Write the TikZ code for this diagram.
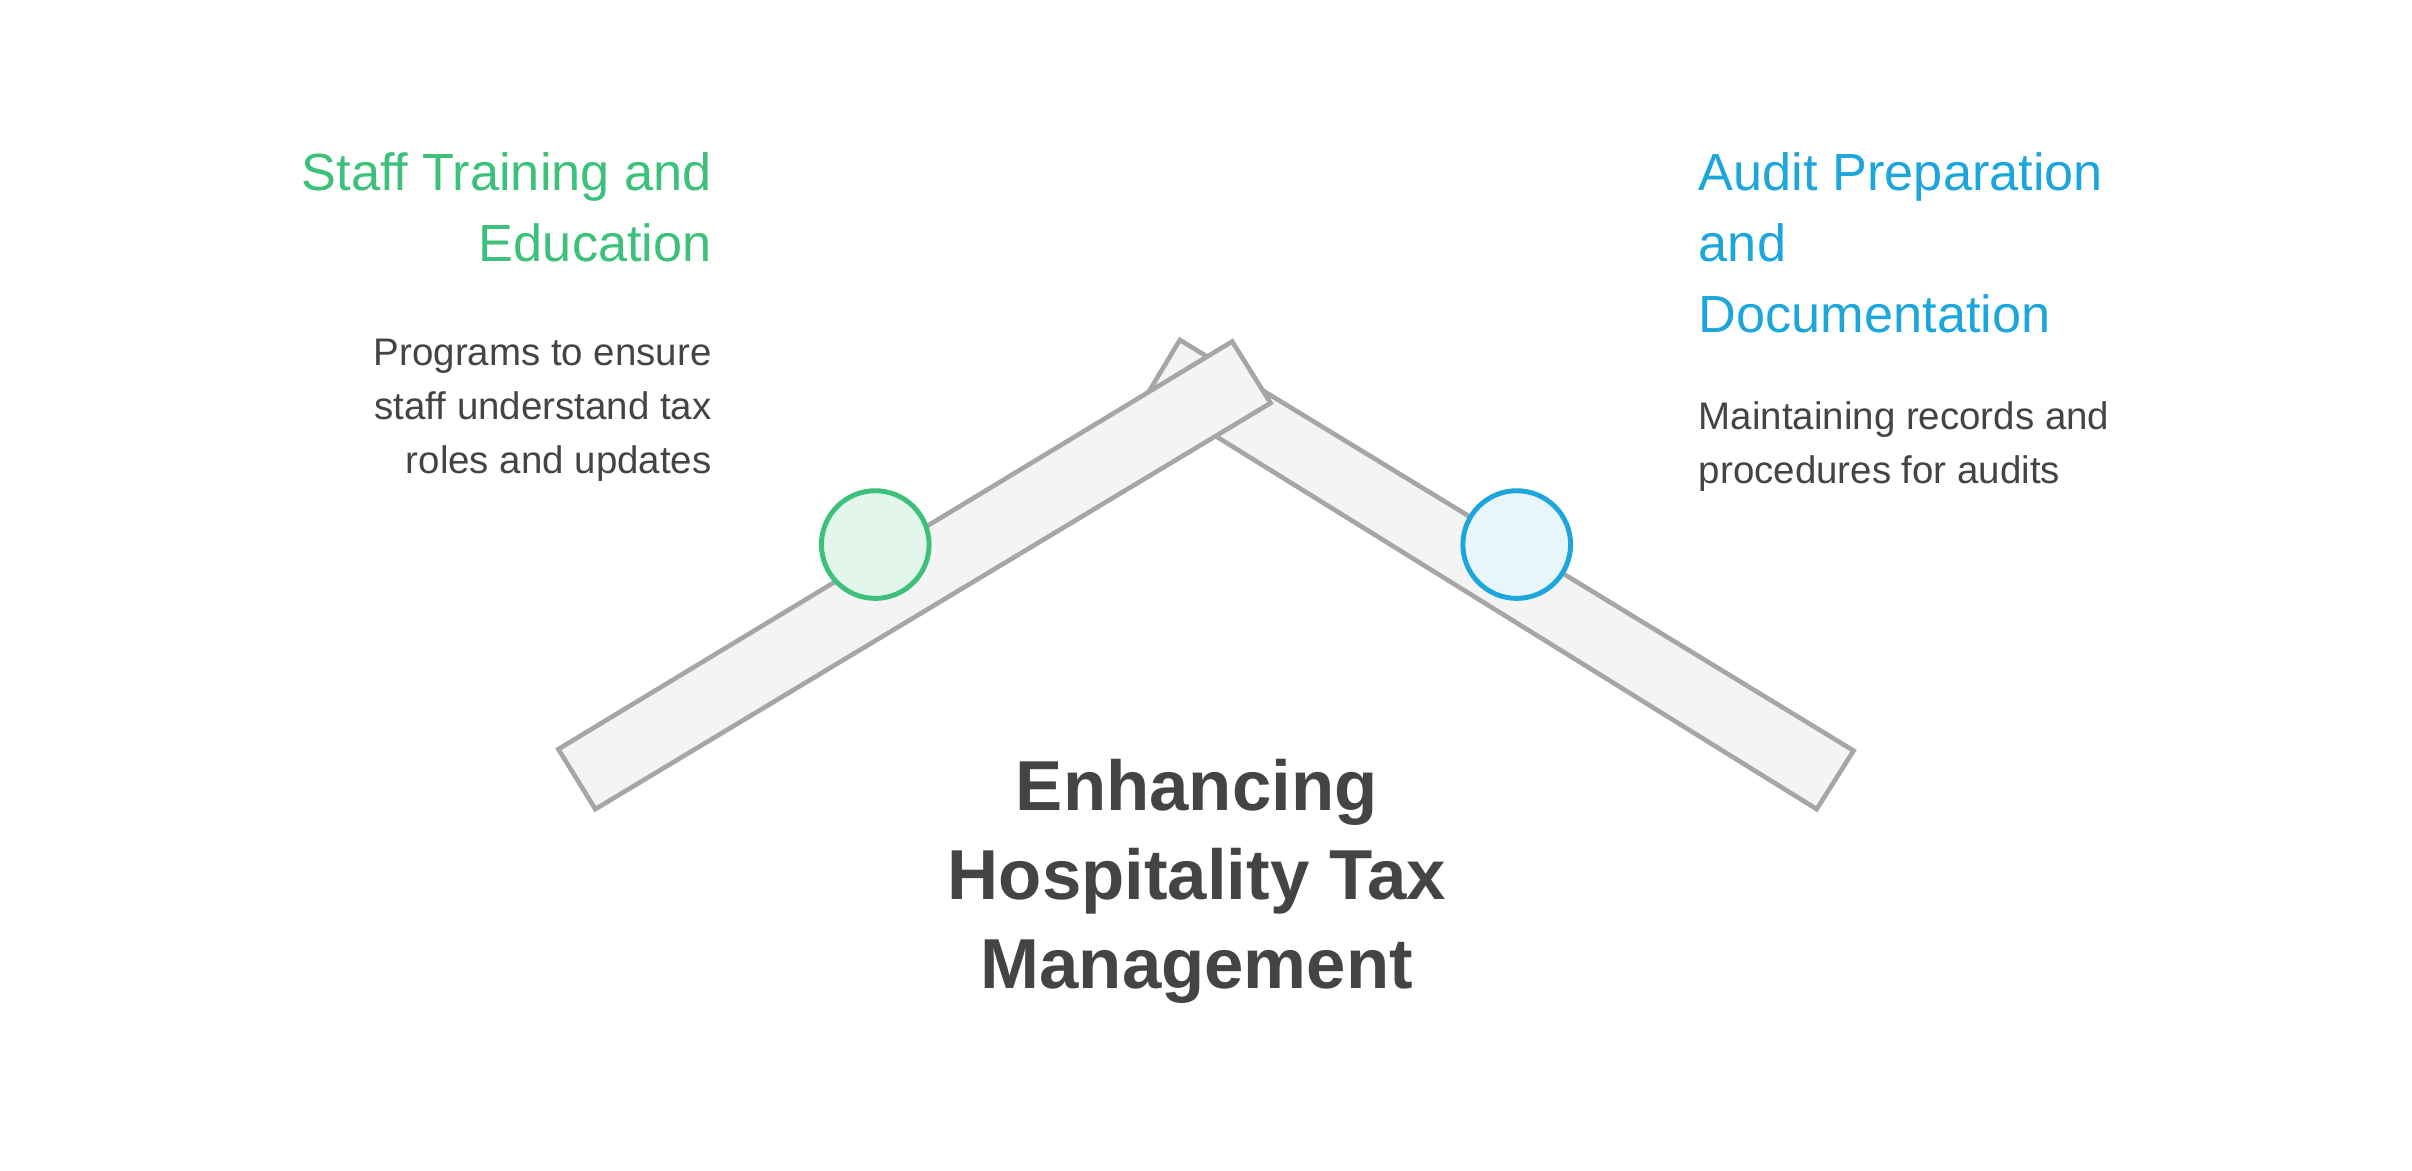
\documentclass[tikz,border=0pt]{standalone}
\usepackage{fontspec}
\setmainfont{Liberation Sans}
\definecolor{grn}{HTML}{3CC07A}
\definecolor{blu}{HTML}{1DA6DB}
\definecolor{txt}{HTML}{444444}
\definecolor{barf}{HTML}{F4F4F4}
\definecolor{bard}{HTML}{A6A6A6}
\tikzset{bar/.style={fill=barf,draw=bard,line width=1.5pt,line join=miter},
 head/.style={font=\fontsize{17}{23}\selectfont,inner sep=0},
 body/.style={font=\fontsize{12.5}{17.5}\selectfont,text=txt,inner sep=0},
 dot/.style={circle,minimum size=35pt,line width=1.6pt,inner sep=0}}
\begin{document}
\begin{tikzpicture}[x=0.5pt,y=-0.5pt]
\useasboundingbox (0,0) rectangle (1568,760.6);
\draw[bar] (767,221) -- (746,256) -- (1181,526) -- (1205,488) -- cycle;
\draw[bar] (363,487) -- (387,526) -- (826,262) -- (801,222) -- cycle;
\node[dot,draw=grn,fill=grn!15] (g) at (569,354) {};
\node[dot,draw=blu,fill=blu!10] (b) at (986,354) {};
\node[head,text=grn,align=right,anchor=north east] (h1) at (463,99) {Staff Training and\\Education};
\node[body,align=right,anchor=north east] (t1) at (463,220) {Programs to ensure\\staff understand tax\\roles and updates};
\node[head,text=blu,align=left,anchor=north west] (h2) at (1104,99) {Audit Preparation\\and\\Documentation};
\node[body,align=left,anchor=north west] (t2) at (1104,261) {Maintaining records and\\procedures for audits};
\node[font=\fontsize{23}{29}\selectfont\bfseries,text=txt,align=center,anchor=north,inner sep=0] (m) at (778,493) {Enhancing\\Hospitality Tax\\Management};
\end{tikzpicture}
\end{document}
